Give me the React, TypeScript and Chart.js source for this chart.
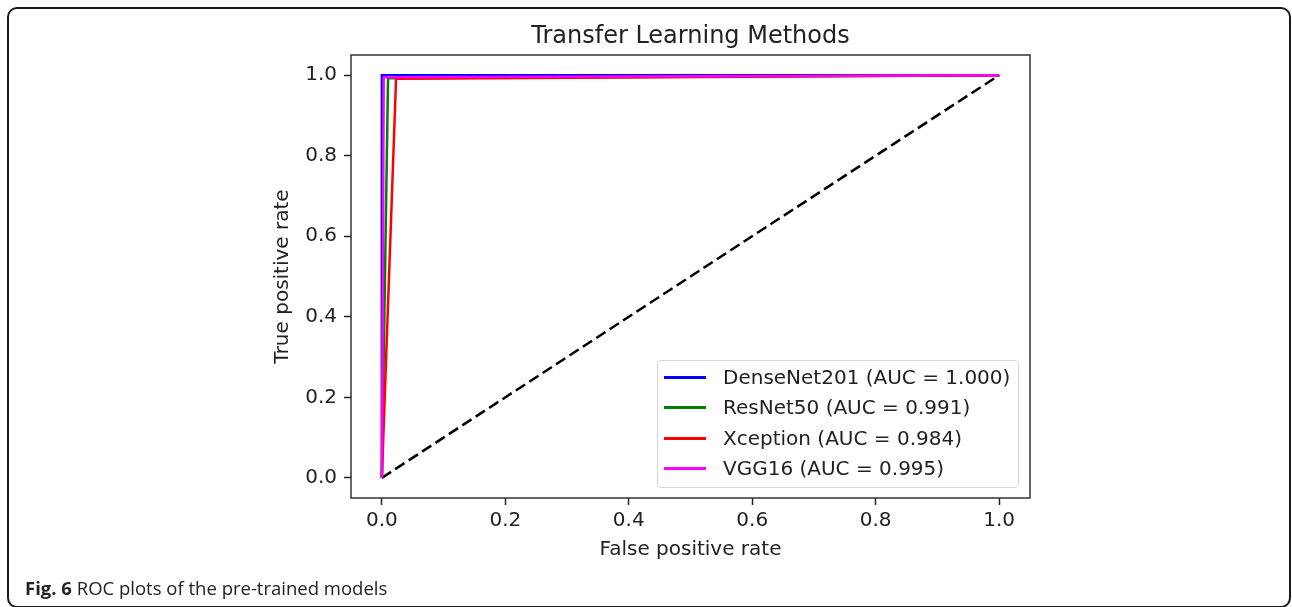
import React, { useEffect, useRef } from 'react';
import { Chart, registerables } from 'chart.js';

Chart.register(...registerables);

// ---- data ----
const modelNames = ['DenseNet201', 'ResNet50', 'Xception', 'VGG16'];
const aucValues = ['1.000', '0.991', '0.984', '0.995'];
const lineColors = ['#0000ff', '#008000', '#ff0000', '#ff00ff'];

const denseFpr = [0, 0, 1];
const denseTpr = [0, 1, 1];
const resnetFpr = [0, 0.01, 1];
const resnetTpr = [0, 0.992, 1];
const xceptionFpr = [0, 0.023, 1];
const xceptionTpr = [0, 0.991, 1];
const vggFpr = [0, 0.003, 1];
const vggTpr = [0, 0.995, 1];
const chanceFpr = [0, 1];
const chanceTpr = [0, 1];

const tickValues = [0, 0.2, 0.4, 0.6, 0.8, 1.0];

const chartTitle = 'Transfer Learning Methods';
const xTitle = 'False positive rate';
const yTitle = 'True positive rate';
const captionBold = 'Fig. 6';
const captionText = 'ROC plots of the pre-trained models';

const FONT = "'DejaVu Sans', sans-serif";

const toPoints = (xs: number[], ys: number[]) => xs.map((x, i) => ({ x, y: ys[i] }));

const framePlugin = {
  id: 'frameBox',
  afterDraw(chart: any) {
    const { ctx, chartArea } = chart;
    ctx.save();
    ctx.strokeStyle = '#333';
    ctx.lineWidth = 1.5;
    ctx.strokeRect(chartArea.left, chartArea.top, chartArea.right - chartArea.left, chartArea.bottom - chartArea.top);
    ctx.restore();
  },
};

export default function App() {
  const canvasRef = useRef<HTMLCanvasElement | null>(null);

  useEffect(() => {
    if (!canvasRef.current) return;
    const series = [
      [denseFpr, denseTpr],
      [resnetFpr, resnetTpr],
      [xceptionFpr, xceptionTpr],
      [vggFpr, vggTpr],
    ];
    const datasets: any[] = series.map((s, i) => ({
      label: `${modelNames[i]} (AUC = ${aucValues[i]})`,
      data: toPoints(s[0], s[1]),
      borderColor: lineColors[i],
      backgroundColor: lineColors[i],
      borderWidth: 2.5,
      showLine: true,
      pointRadius: 0,
      fill: false,
      order: 3 - i,
    }));
    datasets.push({
      label: 'chance',
      data: toPoints(chanceFpr, chanceTpr),
      borderColor: '#000',
      borderWidth: 2.5,
      borderDash: [11, 5],
      showLine: true,
      pointRadius: 0,
      fill: false,
      order: 10,
    });

    const tickFont = { family: FONT, size: 20 };
    const setTicks = (scale: any) => {
      scale.ticks = tickValues.map((v) => ({ value: v }));
    };

    const chart = new Chart(canvasRef.current, {
      type: 'scatter',
      data: { datasets },
      plugins: [framePlugin],
      options: {
        animation: false,
        responsive: false,
        maintainAspectRatio: false,
        layout: { padding: { left: 250, right: 262, top: 0, bottom: 34 } },
        plugins: {
          legend: { display: false },
          tooltip: { enabled: false },
          title: {
            display: true,
            text: chartTitle,
            fullSize: false,
            color: '#222',
            font: { family: FONT, size: 24, weight: 'normal' },
            padding: { top: 22.6, bottom: 3.6 },
          },
        },
        scales: {
          x: {
            type: 'linear',
            min: -0.05,
            max: 1.05,
            afterBuildTicks: setTicks,
            afterFit: (scale: any) => { scale.height = 75; },
            border: { display: false },
            grid: { drawOnChartArea: false, drawTicks: true, tickLength: 7, tickColor: '#222', tickWidth: 1.5 },
            ticks: {
              color: '#222',
              font: tickFont,
              padding: 4,
              maxRotation: 0,
              callback: (v: any) => Number(v).toFixed(1),
            },
            title: {
              display: true,
              text: xTitle,
              color: '#222',
              font: { family: FONT, size: 20 },
              padding: { top: 0, bottom: 11 },
            },
          },
          y: {
            type: 'linear',
            min: -0.05,
            max: 1.05,
            afterBuildTicks: setTicks,
            afterFit: (scale: any) => { scale.width = 101; },
            border: { display: false },
            grid: { drawOnChartArea: false, drawTicks: true, tickLength: 7, tickColor: '#222', tickWidth: 1.5 },
            ticks: {
              color: '#222',
              font: tickFont,
              padding: 7,
              callback: (v: any) => Number(v).toFixed(1),
            },
            title: {
              display: true,
              text: yTitle,
              color: '#222',
              font: { family: FONT, size: 20 },
              padding: { top: 21, bottom: 0 },
            },
          },
        },
      } as any,
    });
    return () => chart.destroy();
  }, []);

  return (
    <div style={{ position: 'absolute', left: 0, top: 0, width: 1292, height: 607, background: '#fff', overflow: 'hidden' }}>
      <div
        style={{
          position: 'absolute',
          left: 7,
          top: 7,
          width: 1284,
          height: 601,
          boxSizing: 'border-box',
          border: '2px solid #1a1a1a',
          borderRadius: 10,
        }}
      />
      <canvas ref={canvasRef} width={1292} height={607} style={{ position: 'absolute', left: 0, top: 0, width: 1292, height: 607 }} />
      <div
        style={{
          position: 'absolute',
          left: 657,
          top: 360,
          width: 362,
          height: 128,
          boxSizing: 'border-box',
          border: '1px solid #d4d4d4',
          borderRadius: 4,
          background: 'rgba(255,255,255,0.8)',
          fontFamily: FONT,
          fontSize: 20,
          color: '#222',
        }}
      >
        {modelNames.map((name, i) => (
          <div key={name} style={{ position: 'absolute', left: 0, top: Math.round(4 + i * 30.3), height: 24, width: 360 }}>
            <div style={{ position: 'absolute', left: 6, top: 11, width: 42, height: 3, background: lineColors[i] }} />
            <div style={{ position: 'absolute', left: 65, top: 0, lineHeight: '24px', whiteSpace: 'nowrap' }}>
              {`${name} (AUC = ${aucValues[i]})`}
            </div>
          </div>
        ))}
      </div>
      <div
        style={{
          position: 'absolute',
          left: 25,
          top: 575,
          fontFamily: "'Open Sans', sans-serif",
          fontSize: 18.5,
          lineHeight: 'normal',
          color: '#222',
          whiteSpace: 'nowrap',
        }}
      >
        <span style={{ fontWeight: 'bold' }}>{captionBold}</span> {captionText}
      </div>
    </div>
  );
}
